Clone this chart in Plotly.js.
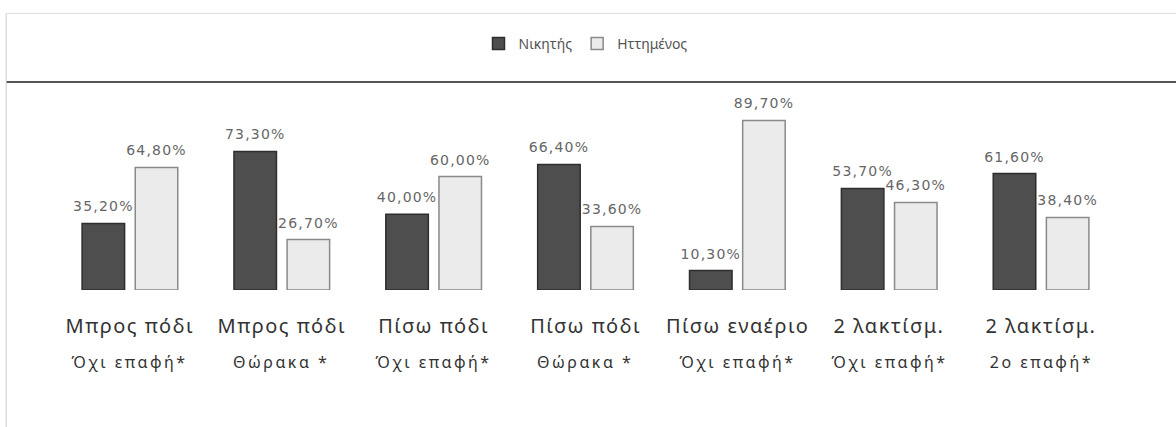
<!DOCTYPE html>
<html>
<head>
<meta charset="utf-8">
<script src="https://cdn.plot.ly/plotly-3.0.1.min.js"></script>
<style>html,body{margin:0;padding:0;background:#fff;}#chart{width:1176px;height:427px;}</style>
</head>
<body>
<div id="chart"></div>
<script>
const categoryLine1 = ["Μπρος πόδι", "Μπρος πόδι", "Πίσω πόδι", "Πίσω πόδι", "Πίσω εναέριο", "2 λακτίσμ.", "2 λακτίσμ."];
const categoryLine2 = ["Όχι επαφή*", "Θώρακα *", "Όχι επαφή*", "Θώρακα *", "Όχι επαφή*", "Όχι επαφή*", "2ο επαφή*"];
const winner = [35.2, 73.3, 40.0, 66.4, 10.3, 53.7, 61.6];
const loser = [64.8, 26.7, 60.0, 33.6, 89.7, 46.3, 38.4];
const seriesNames = ["Νικητής", "Ηττημένος"];

const cats = categoryLine1.map((c, i) => c + " " + categoryLine2[i]);
const labelFont = {family: "DejaVu Sans", size: 14, color: "#666"};

const traces = [
  {type: "bar", name: seriesNames[0], x: cats, y: winner,
   marker: {color: "#4e4e4e", line: {color: "#2e2e2e", width: 1.5}},
   texttemplate: "%{y:.2f}%", textposition: "outside", constraintext: "none", textfont: labelFont, cliponaxis: false},
  {type: "bar", name: seriesNames[1], x: cats, y: loser,
   marker: {color: "#ebebeb", line: {color: "#8a8a8a", width: 1.5}},
   texttemplate: "%{y:.2f}%", textposition: "outside", constraintext: "none", textfont: labelFont, cliponaxis: false}
];

const annotations = [];
cats.forEach((c, i) => {
  annotations.push({x: c, xref: "x", y: 0, yref: "paper", yanchor: "middle", yshift: -35,
    text: categoryLine1[i], showarrow: false, font: {family: "Noto Sans", size: 20, color: "#333"}});
  annotations.push({x: c, xref: "x", y: 0, yref: "paper", yanchor: "middle", yshift: -72,
    text: categoryLine2[i], showarrow: false, font: {family: "Noto Sans", size: 16, color: "#333"}});
});

const layout = {
  width: 1176, height: 427,
  margin: {l: 54, r: 59, t: 82, b: 137},
  paper_bgcolor: "#fff", plot_bgcolor: "#fff",
  separators: ",.",
  barmode: "group", bargap: 0.3, bargroupgap: 0.2,
  showlegend: true,
  legend: {orientation: "h", x: 0.5, xanchor: "center", xref: "paper", y: 0.897, yref: "container", yanchor: "middle",
    font: {family: "Noto Sans", size: 14, color: "#555"}, itemwidth: 30, tracegroupgap: 0},
  xaxis: {showticklabels: false, showgrid: false, zeroline: false, showline: false, ticks: ""},
  yaxis: {range: [0, 110], showticklabels: false, showgrid: false, zeroline: false, showline: false, ticks: ""},
  annotations: annotations,
  shapes: [
    {type: "line", xref: "paper", yref: "paper", x0: -0.045, x1: 1.06, y0: 1.0, y1: 1.0, line: {color: "#555", width: 2}},
    {type: "line", xref: "paper", yref: "paper", x0: -0.045, x1: 1.06, y0: 1.33, y1: 1.33, line: {color: "#ddd", width: 1}},
    {type: "line", xref: "paper", yref: "paper", x0: -0.045, x1: -0.045, y0: 1.33, y1: -0.66, line: {color: "#ccc", width: 1}}
  ]
};

Plotly.newPlot("chart", traces, layout, {displayModeBar: false, staticPlot: true}).then(() => {
  document.querySelectorAll(".bartext").forEach(el => {
    el.style.letterSpacing = "1.2px";
    const t = el.getAttribute("transform") || "";
    el.setAttribute("transform", "translate(0,-6) " + t);
  });
  document.querySelectorAll(".annotation-text").forEach((el, i) => {
    el.style.letterSpacing = (i % 2 === 0) ? "1.5px" : "2.5px";
  });
});
</script>
</body>
</html>
